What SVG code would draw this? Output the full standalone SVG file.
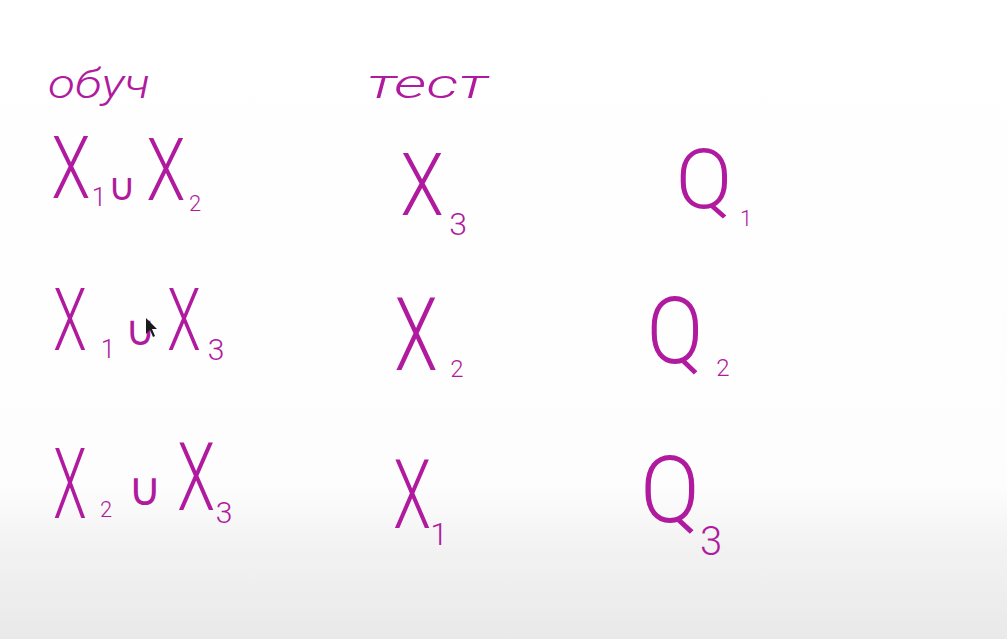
<svg xmlns="http://www.w3.org/2000/svg" width="1007" height="639" viewBox="0 0 1007 639">
<defs>
<linearGradient id="bg" x1="0" y1="0" x2="0" y2="1">
<stop offset="0" stop-color="#ffffff"/>
<stop offset="0.76" stop-color="#fdfdfd"/>
<stop offset="0.86" stop-color="#f2f2f2"/>
<stop offset="1" stop-color="#e9e9e9"/>
</linearGradient>
<style>
.hw{font-family:Roboto,"DejaVu Sans","Liberation Sans",sans-serif;font-weight:300;fill:#b01a9e}
.big{font-size:88px}
.sub{font-size:26px}
.cup{font-size:38px;font-weight:200}
.head{font-size:40px;font-style:italic}
</style>
</defs>
<rect x="0" y="0" width="1007" height="639" fill="url(#bg)"/>
<g id="header-train"><text class="hw head" x="48" y="98" textLength="102" lengthAdjust="spacingAndGlyphs">обуч</text></g>
<g id="header-test"><text class="hw head" x="367" y="98" textLength="121" lengthAdjust="spacingAndGlyphs">тест</text></g>

<g id="row1-train">
<text class="hw big" text-anchor="middle" transform="translate(71,198) scale(0.72,1)">X</text>
<text class="hw sub" text-anchor="middle" x="99" y="206">1</text>
<text class="hw cup" text-anchor="middle" x="122" y="200">∪</text>
<text class="hw big" text-anchor="middle" transform="translate(166,200) scale(0.72,1)">X</text>
<text class="hw sub" text-anchor="middle" x="195" y="211" style="font-size:22px">2</text>
</g>
<g id="row1-test">
<text class="hw big" text-anchor="middle" transform="translate(422,215) scale(0.8,1)">X</text>
<text class="hw sub" text-anchor="middle" x="458" y="235" style="font-size:32px">3</text>
</g>
<g id="row1-q">
<text class="hw big" text-anchor="middle" transform="translate(704,208) scale(0.95,0.95)">Q</text>
<text class="hw sub" text-anchor="middle" x="746" y="226" style="font-size:22px">1</text>
</g>

<g id="row2-train">
<text class="hw big" text-anchor="middle" transform="translate(70,350) scale(0.62,1)">X</text>
<text class="hw sub" text-anchor="middle" x="108" y="358">1</text>
<text class="hw cup" text-anchor="middle" x="140" y="345" style="font-size:42px">∪</text>
<text class="hw big" text-anchor="middle" transform="translate(184,350) scale(0.62,1)">X</text>
<text class="hw sub" text-anchor="middle" x="216" y="360" style="font-size:30px">3</text>
<path d="M146,318 L146,334 L150,330 L153,337 L155,336 L152,329 L157,329 Z" fill="#1a1a1a"/>
</g>
<g id="row2-test">
<text class="hw big" text-anchor="middle" transform="translate(416,370) scale(0.8,1.15)">X</text>
<text class="hw sub" text-anchor="middle" x="457" y="377" style="font-size:24px">2</text>
</g>
<g id="row2-q">
<text class="hw big" text-anchor="middle" transform="translate(675,363) scale(0.95,1.05)">Q</text>
<text class="hw sub" text-anchor="middle" x="723" y="376" style="font-size:24px">2</text>
</g>

<g id="row3-train">
<text class="hw big" text-anchor="middle" transform="translate(70,518) scale(0.62,1.12)">X</text>
<text class="hw sub" text-anchor="middle" x="106" y="517" style="font-size:22px">2</text>
<text class="hw cup" text-anchor="middle" x="145" y="505" style="font-size:46px">∪</text>
<text class="hw big" text-anchor="middle" transform="translate(196,510) scale(0.7,1.08)">X</text>
<text class="hw sub" text-anchor="middle" x="224" y="523" style="font-size:30px">3</text>
</g>
<g id="row3-test">
<text class="hw big" text-anchor="middle" transform="translate(412,528) scale(0.7,1.1)">X</text>
<text class="hw sub" text-anchor="middle" x="439" y="545" style="font-size:32px">1</text>
</g>
<g id="row3-q">
<text class="hw big" text-anchor="middle" transform="translate(670,522) scale(1,1.05)">Q</text>
<text class="hw sub" text-anchor="middle" x="711" y="555" style="font-size:40px">3</text>
</g>
</svg>
